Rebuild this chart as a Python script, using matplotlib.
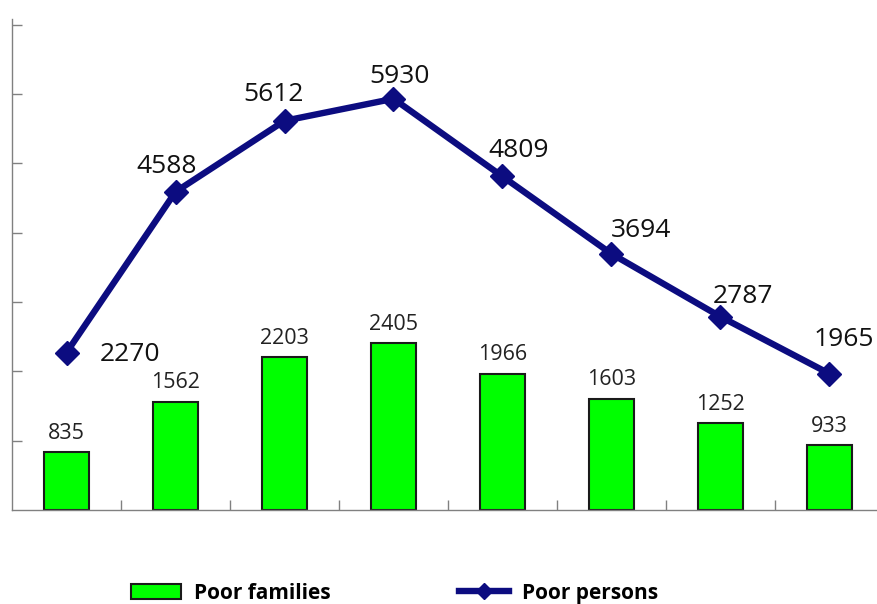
import matplotlib
matplotlib.use('Agg')
import matplotlib.pyplot as plt
import numpy as np

plt.rcParams['font.family'] = ['Open Sans', 'DejaVu Sans']

categories = ['1', '2', '3', '4', '5', '6', '7', '8']
poor_families = [835, 1562, 2203, 2405, 1966, 1603, 1252, 933]
poor_persons = [2270, 4588, 5612, 5930, 4809, 3694, 2787, 1965]

# label offsets for line values (points)
person_offsets = [(46, -1.5), (-6.5, 18), (-8, 19), (4, 16), (11.5, 19), (21, 16.5), (16.5, 14.5), (10, 24.5)]

x = np.arange(len(categories))

fig = plt.figure(figsize=(8.77, 6.04), dpi=100)
ax = fig.add_axes([12 / 877, 94 / 604, 872 / 877, 491 / 604])

bars = ax.bar(x, poor_families, width=0.42, color='#00ff00', edgecolor='#1a1a1a',
              linewidth=1.5, label='Poor families', zorder=2)
line, = ax.plot(x, poor_persons, color='#0c0c80', linewidth=4.6, marker='D', markersize=12.5,
                label='Poor persons', zorder=3)

for xi, v in zip(x, poor_families):
    ax.annotate(str(v), (xi, v), xytext=(0, 6), textcoords='offset points',
                ha='center', va='bottom', fontsize=15.5, color='#222222')
for xi, v, off in zip(x, poor_persons, person_offsets):
    ax.annotate(str(v), (xi, v), xytext=off, textcoords='offset points',
                ha='center', va='center', fontsize=19, color='#111111')

ax.set_xlim(-0.5, 7.5)
ax.set_ylim(0, 7080)
ax.set_yticks(np.arange(1000, 7001, 1000))
ax.set_xticks(np.arange(0.5, 7.5, 1))
ax.set_yticklabels([])
ax.set_xticklabels([])
ax.tick_params(axis='both', direction='in', length=7, color='#808080', width=1)

for s in ['top', 'right']:
    ax.spines[s].set_visible(False)
for s in ['left', 'bottom']:
    ax.spines[s].set_color('#808080')
    ax.spines[s].set_linewidth(1)

leg = fig.legend([bars, line], ['Poor families', 'Poor persons'], loc='center',
                 bbox_to_anchor=(0.45, 0.018), ncol=2, frameon=False,
                 prop={'weight': 'bold', 'size': 15}, handlelength=2.4,
                 columnspacing=6.2, handletextpad=0.6)
leg.legend_handles[1].set_markersize(8)

fig.savefig('out.png', dpi=100)
